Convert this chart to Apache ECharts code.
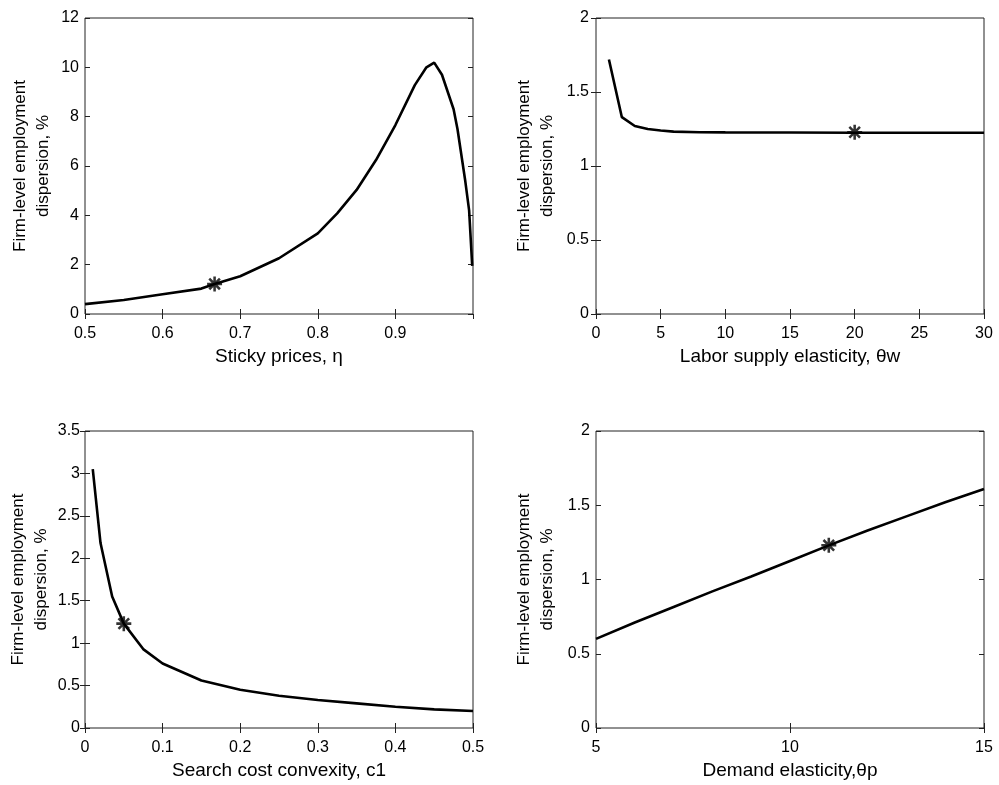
<!DOCTYPE html>
<html>
<head>
  <meta charset="utf-8">
  <script src="https://cdn.jsdelivr.net/npm/echarts@6/dist/echarts.min.js"></script>
  <style>
    html, body { margin: 0; padding: 0; background: #fff; }
  </style>
</head>
<body>
  <div id="main" style="width: 999px;height:785px;"></div>
  <script>
    // panel 1: sticky prices
    var etaX = [0.5, 0.55, 0.6, 0.65, 0.667, 0.7, 0.75, 0.8, 0.825, 0.85, 0.875, 0.9, 0.925, 0.94, 0.95, 0.96, 0.975, 0.98, 0.99, 0.995, 0.999];
    var etaY = [0.4, 0.57, 0.8, 1.03, 1.22, 1.53, 2.26, 3.27, 4.08, 5.03, 6.24, 7.66, 9.28, 10.0, 10.19, 9.7, 8.3, 7.5, 5.4, 4.2, 1.95];
    var etaStar = [0.667, 1.22];

    // panel 2: labor supply elasticity
    var thetaWX = [1, 2, 3, 4, 5, 6, 8, 10, 15, 20, 25, 30];
    var thetaWY = [1.72, 1.33, 1.27, 1.25, 1.24, 1.232, 1.228, 1.227, 1.226, 1.225, 1.225, 1.225];
    var thetaWStar = [20, 1.228];

    // panel 3: search cost convexity
    var c1X = [0.01, 0.02, 0.035, 0.05, 0.075, 0.1, 0.15, 0.2, 0.25, 0.3, 0.35, 0.4, 0.45, 0.5];
    var c1Y = [3.05, 2.18, 1.55, 1.23, 0.93, 0.76, 0.56, 0.45, 0.38, 0.33, 0.29, 0.25, 0.22, 0.2];
    var c1Star = [0.05, 1.23];

    // panel 4: demand elasticity
    var thetaPX = [5, 6, 7, 8, 9, 10, 11, 12, 13, 14, 15];
    var thetaPY = [0.6, 0.71, 0.815, 0.92, 1.02, 1.125, 1.23, 1.33, 1.425, 1.52, 1.61];
    var thetaPStar = [11, 1.23];

    var xNames = ['Sticky prices, \u03b7', 'Labor supply elasticity, \u03b8w', 'Search cost convexity, c1', 'Demand elasticity,\u03b8p'];
    var yName = 'Firm-level employment\ndispersion, %';

    var font = '"Liberation Sans", Arial, sans-serif';
    var ink = '#000';

    var starPath = 'path://M-1.7,-10 L1.7,-10 L1.7,10 L-1.7,10 Z M-10,-1.7 L10,-1.7 L10,1.7 L-10,1.7 Z ' +
      'M-5.9,-8.3 L8.3,5.9 L5.9,8.3 L-8.3,-5.9 Z M-8.3,5.9 L5.9,-8.3 L8.3,-5.9 L-5.9,8.3 Z';

    var panels = [
      { x: etaX, y: etaY, star: etaStar, xr: [0.5, 1, 0.1], yr: [0, 12, 2], hideMax: true, gap: 30, lm: 6 },
      { x: thetaWX, y: thetaWY, star: thetaWStar, xr: [0, 30, 5], yr: [0, 2, 0.5], hideMax: false, gap: 37, lm: 7 },
      { x: c1X, y: c1Y, star: c1Star, xr: [0, 0.5, 0.1], yr: [0, 3.5, 0.5], hideMax: false, gap: 32, lm: 5 },
      { x: thetaPX, y: thetaPY, star: thetaPStar, xr: [5, 15, 5], yr: [0, 2, 0.5], hideMax: false, gap: 37, lm: 6 }
    ];

    var grids = [
      { left: 85, top: 18, width: 388, height: 296 },
      { left: 596, top: 18, width: 388, height: 296 },
      { left: 85, top: 431, width: 388, height: 297 },
      { left: 596, top: 431, width: 388, height: 297 }
    ];

    var xAxes = [], yAxes = [], series = [];
    panels.forEach(function (p, i) {
      grids[i].show = true;
      grids[i].borderColor = '#222';
      grids[i].borderWidth = 1;
      var tick = { show: true, inside: true, length: 5, lineStyle: { color: '#222' } };
      xAxes.push({
        gridIndex: i, type: 'value', position: 'bottom',
        min: p.xr[0], max: p.xr[1], interval: p.xr[2],
        axisLine: { show: false }, axisTick: tick, splitLine: { show: false },
        axisLabel: { color: ink, fontSize: 16, fontFamily: font, margin: 12, showMaxLabel: !p.hideMax },
        name: xNames[i], nameLocation: 'middle', nameGap: 33,
        nameTextStyle: { color: ink, fontSize: 19, fontFamily: font }
      });
      xAxes.push({
        gridIndex: i, type: 'value', position: 'top',
        min: p.xr[0], max: p.xr[1], interval: p.xr[2],
        axisLine: { show: false }, axisTick: tick, splitLine: { show: false },
        axisLabel: { show: false }
      });
      yAxes.push({
        gridIndex: i, type: 'value', position: 'left',
        min: p.yr[0], max: p.yr[1], interval: p.yr[2],
        axisLine: { show: false }, axisTick: tick, splitLine: { show: false },
        axisLabel: { color: ink, fontSize: 16, fontFamily: font, margin: p.lm },
        name: yName, nameLocation: 'middle', nameGap: p.gap, nameRotate: 90,
        nameTextStyle: { color: ink, fontSize: 17, fontFamily: font, lineHeight: 23 }
      });
      yAxes.push({
        gridIndex: i, type: 'value', position: 'right',
        min: p.yr[0], max: p.yr[1], interval: p.yr[2],
        axisLine: { show: false }, axisTick: tick, splitLine: { show: false },
        axisLabel: { show: false }
      });
      series.push({
        type: 'line', xAxisIndex: 2 * i, yAxisIndex: 2 * i,
        data: p.x.map(function (v, k) { return [v, p.y[k]]; }),
        symbol: 'none', smooth: false, silent: true,
        lineStyle: { color: ink, width: 2.6 }
      });
      series.push({
        type: 'scatter', xAxisIndex: 2 * i, yAxisIndex: 2 * i,
        data: [p.star], symbol: starPath, symbolSize: 15, silent: true,
        itemStyle: { color: ink }
      });
    });

    var myChart = echarts.init(document.getElementById('main'));
    myChart.setOption({
      backgroundColor: '#fff',
      animation: false,
      grid: grids,
      xAxis: xAxes,
      yAxis: yAxes,
      series: series
    });
  </script>
</body>
</html>
